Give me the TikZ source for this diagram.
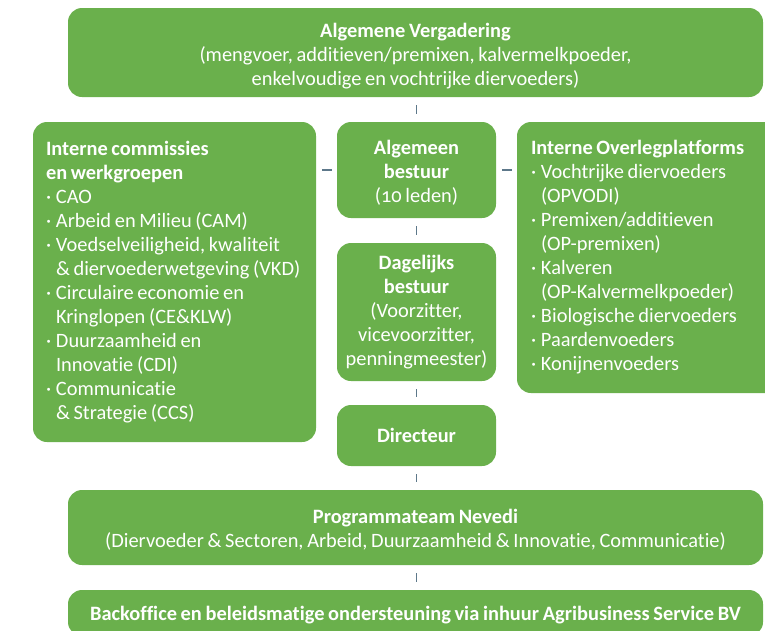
\documentclass[tikz,border=0pt]{standalone}
\usepackage{fontspec}
\setmainfont{Carlito}[Numbers=OldStyle, Ligatures=NoCommon, WordSpace=0.8]
\usetikzlibrary{calc}
\definecolor{boxgreen}{RGB}{106,176,76}
\definecolor{tickgrey}{RGB}{93,120,138}
\newcommand{\itm}{\makebox[10pt][l]{·}}
\newcommand{\cnt}{\hspace*{10pt}}
\newcommand{\lift}[1]{\rule{0pt}{#1}}
\tikzset{
  box/.style={fill=boxgreen, draw=none, rounded corners=14pt, text=white,
    font=\fontsize{20.4}{24}\selectfont, inner sep=0pt},
  listbox/.style={box, align=flush left, inner xsep=13pt},
  centbox/.style={box, align=center},
  tick/.style={draw=tickgrey, line width=1.2pt}
}
\begin{document}
\begin{tikzpicture}[x=1pt,y=-1pt]
\useasboundingbox (0,0) rectangle (765,630);
\node[centbox, minimum width=695pt, minimum height=89pt] (top) at (415.5,52.5)
  {\lift{22pt}\textbf{Algemene Vergadering}\\(mengvoer, additieven/premixen, kalvermelkpoeder,\\enkelvoudige en vochtrijke diervoeders)};
\node[listbox, minimum width=283pt, minimum height=320pt, text width=257pt] (left) at (174.5,282)
  {\textbf{Interne commissies}\\\textbf{en werkgroepen}\\
   \itm CAO\\
   \itm Arbeid en Milieu (CAM)\\
   \itm Voedselveiligheid, kwaliteit\\
   \cnt\& diervoederwetgeving (VKD)\\
   \itm Circulaire economie en\\
   \cnt Kringlopen (CE\&KLW)\\
   \itm Duurzaamheid en\\
   \cnt Innovatie (CDI)\\
   \itm Communicatie\\
   \cnt\& Strategie (CCS)};
\node[centbox, minimum width=159pt, minimum height=96pt] (ab) at (416.5,170)
  {\lift{19pt}\textbf{Algemeen}\\\textbf{bestuur}\\(10 leden)};
\node[centbox, minimum width=159pt, minimum height=138pt] (db) at (416.5,312)
  {\textbf{Dagelijks}\\\textbf{bestuur}\\(Voorzitter,\\vicevoorzitter,\\penningmeester)};
\node[centbox, minimum width=159pt, minimum height=61pt] (dir) at (416.5,435.5)
  {\textbf{Directeur}};
\node[listbox, minimum width=273pt, minimum height=271pt, text width=245pt, inner xsep=14pt] (right) at (653.5,257.5)
  {\textbf{Interne Overlegplatforms}\\
   \itm Vochtrijke diervoeders\\
   \cnt(OPVODI)\\
   \itm Premixen/additieven\\
   \cnt(OP-premixen)\\
   \itm Kalveren\\
   \cnt(OP-Kalvermelkpoeder)\\
   \itm Biologische diervoeders\\
   \itm Paardenvoeders\\
   \itm Konijnenvoeders};
\node[centbox, minimum width=695pt, minimum height=75pt] (prog) at (415.5,527.5)
  {\lift{19pt}\textbf{Programmateam Nevedi}\\(Diervoeder \& Sectoren, Arbeid, Duurzaamheid \& Innovatie, Communicatie)};
\node[centbox, minimum width=695pt, minimum height=46pt] (back) at (415.5,613)
  {\lift{19pt}\textbf{Backoffice en beleidsmatige ondersteuning via inhuur Agribusiness Service BV}};
\draw[tick, shorten <=8pt, shorten >=8pt] (top.south -| ab.north) -- (ab.north);
\draw[tick, shorten <=8pt, shorten >=8pt] (ab.south) -- (db.north);
\draw[tick, shorten <=8pt, shorten >=8pt] (db.south) -- (dir.north);
\draw[tick, shorten <=8pt, shorten >=8pt] (dir.south) -- (prog.north -| dir.south);
\draw[tick, shorten <=8pt, shorten >=8pt] (prog.south -| dir.south) -- (back.north -| dir.south);
\draw[tick, shorten <=6pt, shorten >=5pt] (left.east |- ab.west) -- (ab.west);
\draw[tick, shorten <=6pt, shorten >=5pt] (ab.east) -- (right.west |- ab.east);
\end{tikzpicture}
\end{document}
